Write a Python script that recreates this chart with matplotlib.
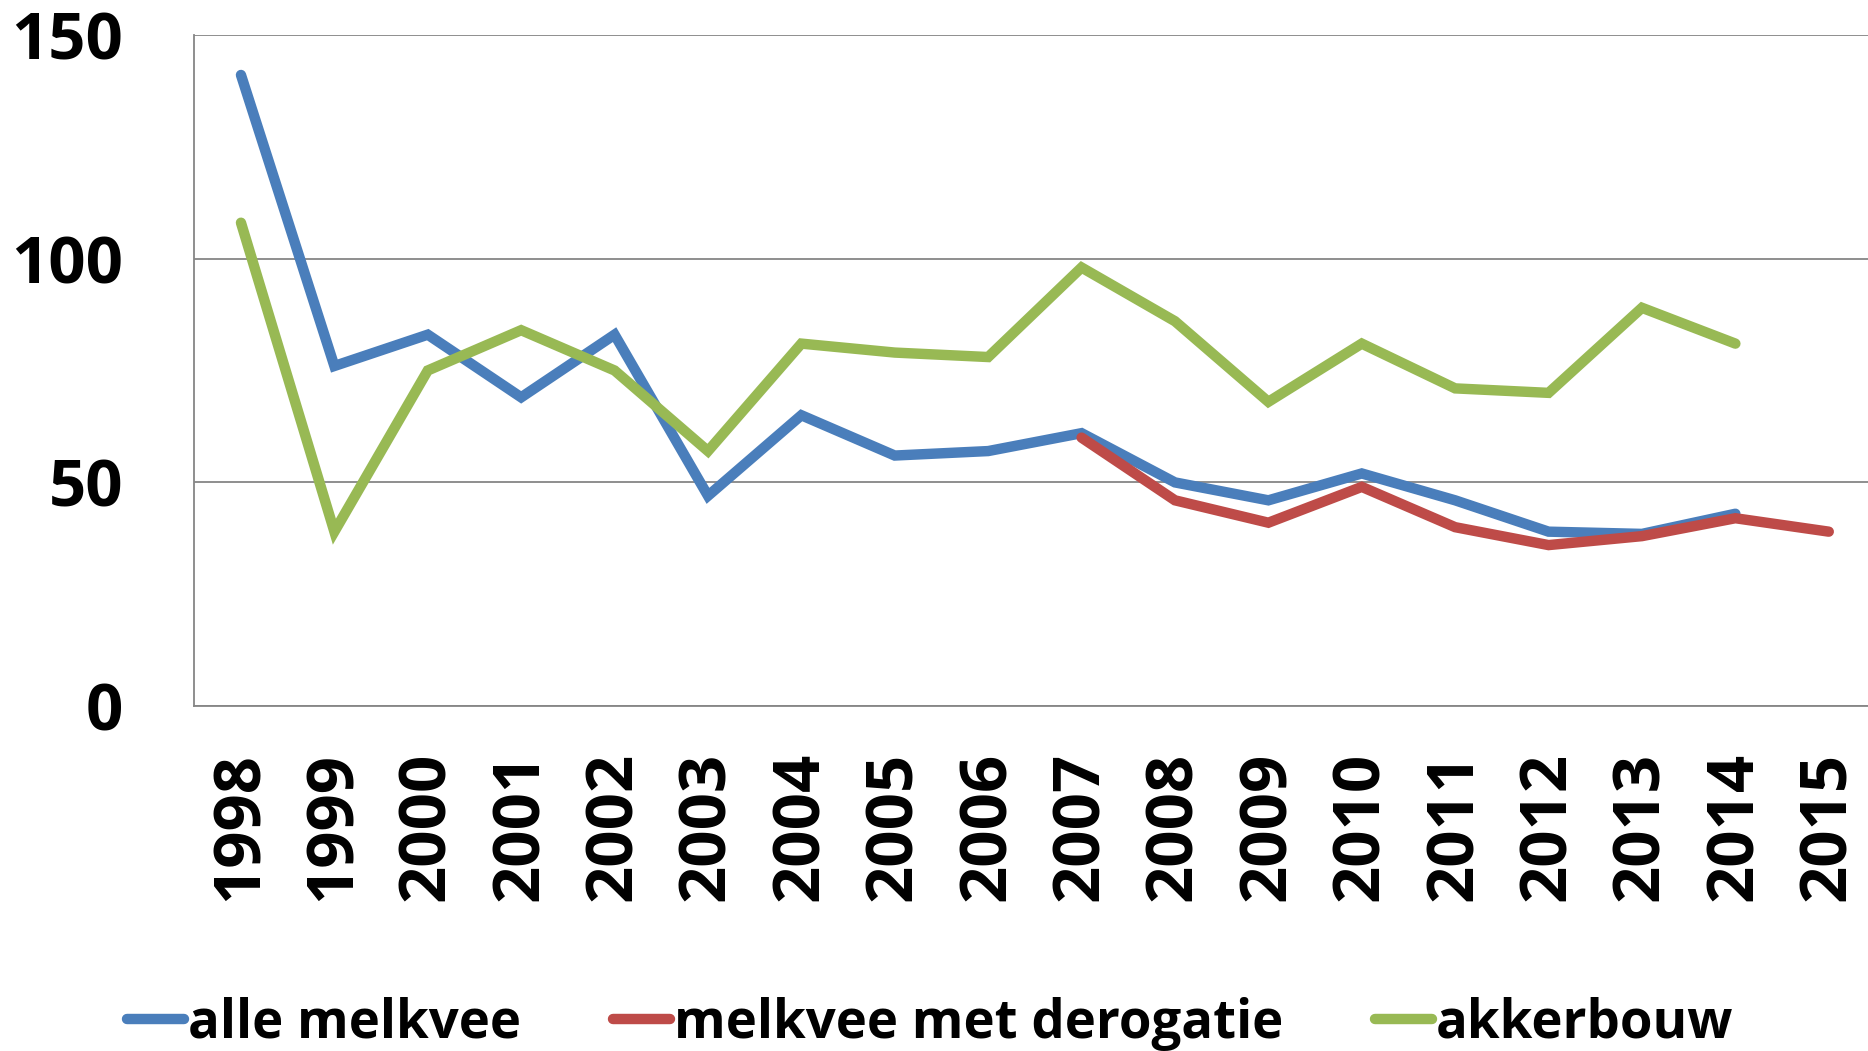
import matplotlib.pyplot as plt

# Years on the x axis
years = [str(y) for y in range(1998, 2016)]

# Series values (None = no data)
alle_melkvee = [141, 76, 83, 69, 83, 47, 65, 56, 57, 61, 50, 46, 52, 46, 39, 38.5, 43, None]
melkvee_derogatie = [None] * 9 + [60, 46, 41, 49, 40, 36, 38, 42, 39]
akkerbouw = [108, 39, 75, 84, 75, 57, 81, 79, 78, 98, 86, 68, 81, 71, 70, 89, 81, None]

yticks = [0, 50, 100, 150]

plt.rcParams['font.family'] = ['Open Sans', 'DejaVu Sans']
plt.rcParams['font.weight'] = 'bold'

fig = plt.figure(figsize=(18.68, 10.51), dpi=100)
ax = fig.add_axes([0.104, 0.328, 0.9, 0.639])

x = list(range(len(years)))


def clean(vals):
    return [float('nan') if v is None else v for v in vals]


ax.plot(x, clean(alle_melkvee), color='#4A7EBB', lw=7.5, solid_capstyle='round',
        solid_joinstyle='miter', label='alle melkvee', zorder=3)
ax.plot(x, clean(melkvee_derogatie), color='#BE4B48', lw=7.5, solid_capstyle='round',
        solid_joinstyle='miter', label='melkvee met derogatie', zorder=4)
ax.plot(x, clean(akkerbouw), color='#98B954', lw=7.5, solid_capstyle='round',
        solid_joinstyle='miter', label='akkerbouw', zorder=3)

ax.set_xlim(-0.5, len(years) - 0.5)
ax.set_ylim(0, 150)
ax.set_yticks(yticks)
ax.set_yticklabels([str(t) for t in yticks], fontsize=47, fontweight='bold')
ax.set_xticks(x)
ax.set_xticklabels(years, rotation=90, fontsize=47, fontweight='bold')
ax.tick_params(axis='y', length=0, pad=51)
ax.tick_params(axis='x', length=0, pad=33)

ax.grid(axis='y', color='#868686', lw=1.3)
ax.set_axisbelow(True)
for s in ['top', 'right']:
    ax.spines[s].set_visible(False)
for s in ['left', 'bottom']:
    ax.spines[s].set_color('#868686')
    ax.spines[s].set_linewidth(1.3)

fig.legend(loc='center', bbox_to_anchor=(0.498, 0.026), ncol=3, frameon=False,
           handlelength=1.07, handletextpad=0.08, columnspacing=1.75,
           prop={'weight': 'bold', 'size': 38})

fig.savefig('out.png', dpi=100)
